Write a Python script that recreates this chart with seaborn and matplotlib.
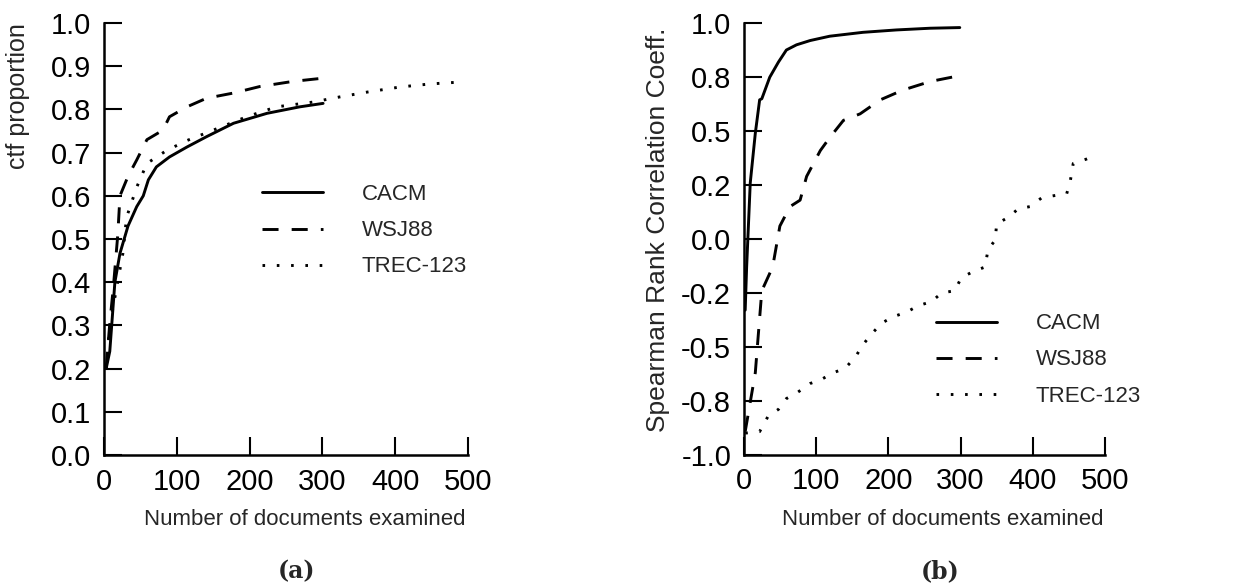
import matplotlib
matplotlib.use("Agg")
import matplotlib.pyplot as plt
from matplotlib.ticker import FormatStrFormatter
import seaborn as sns
import pandas as pd

# (a) ctf proportion vs documents examined
cacm_x_a = [3, 8, 15, 22, 33, 45, 54, 61, 72, 90, 114, 141, 178, 224, 269, 301]
cacm_y_a = [0.20, 0.24, 0.40, 0.467, 0.53, 0.575, 0.60, 0.637, 0.667, 0.69, 0.713, 0.737, 0.768, 0.791, 0.806, 0.814]
wsj_x_a = [3, 8, 13, 19, 22, 33, 45, 59, 81, 90, 114, 141, 178, 214, 260, 299]
wsj_y_a = [0.20, 0.305, 0.39, 0.51, 0.60, 0.645, 0.683, 0.73, 0.752, 0.783, 0.806, 0.826, 0.838, 0.853, 0.865, 0.872]
trec_x_a = [3, 8, 26, 31, 45, 59, 86, 114, 150, 196, 237, 287, 324, 361, 407, 448, 486]
trec_y_a = [0.20, 0.30, 0.467, 0.55, 0.62, 0.675, 0.705, 0.728, 0.752, 0.783, 0.806, 0.817, 0.829, 0.84, 0.852, 0.859, 0.863]

# (b) Spearman rank correlation vs documents examined
cacm_x_b = [2, 4, 9, 16, 22, 25, 36, 48, 59, 73, 92, 119, 165, 211, 258, 299]
cacm_y_b = [-0.33, -0.13, 0.26, 0.49, 0.645, 0.65, 0.75, 0.82, 0.876, 0.90, 0.92, 0.94, 0.958, 0.969, 0.977, 0.98]
wsj_x_b = [2, 16, 20, 25, 40, 50, 64, 78, 87, 106, 119, 138, 161, 189, 220, 258, 297]
wsj_y_b = [-0.893, -0.62, -0.45, -0.24, -0.13, 0.06, 0.15, 0.18, 0.29, 0.41, 0.47, 0.55, 0.58, 0.645, 0.69, 0.73, 0.756]
trec_x_b = [2, 22, 34, 48, 59, 75, 92, 108, 124, 140, 154, 165, 177, 191, 207, 225, 241, 260, 274,
            292, 301, 318, 334, 338, 348, 350, 366, 380, 396, 412, 428, 447, 452, 456, 474, 488]
trec_y_b = [-0.90, -0.893, -0.82, -0.79, -0.74, -0.71, -0.67, -0.65, -0.62, -0.60, -0.55, -0.49, -0.44,
            -0.39, -0.36, -0.34, -0.31, -0.29, -0.25, -0.24, -0.18, -0.15, -0.13, -0.05, -0.005, 0.07,
            0.10, 0.14, 0.15, 0.19, 0.20, 0.21, 0.27, 0.35, 0.37, 0.39]

collections = ["CACM", "WSJ88", "TREC-123"]
dash_styles = {"CACM": "", "WSJ88": (5.5, 4.5), "TREC-123": (0.9, 4.0)}


def frame(xs, ys):
    rows = []
    for name, x, y in zip(collections, xs, ys):
        rows.append(pd.DataFrame({"docs": x, "value": y, "collection": name}))
    return pd.concat(rows, ignore_index=True)


df_a = frame([cacm_x_a, wsj_x_a, trec_x_a], [cacm_y_a, wsj_y_a, trec_y_a])
df_b = frame([cacm_x_b, wsj_x_b, trec_x_b], [cacm_y_b, wsj_y_b, trec_y_b])

sns.set_style("ticks")
plt.rcParams["font.family"] = ["Liberation Sans", "DejaVu Sans"]
narrow = ["Liberation Sans Narrow", "Liberation Sans", "DejaVu Sans"]

fig = plt.figure(figsize=(12.54, 5.86), dpi=100)
ax_a = fig.add_axes([0.0829, 0.2235, 0.2903, 0.7372])
ax_b = fig.add_axes([0.5931, 0.2241, 0.2881, 0.7362])

for ax, df in [(ax_a, df_a), (ax_b, df_b)]:
    sns.lineplot(data=df, x="docs", y="value", hue="collection", style="collection",
                 palette=["black"] * 3, dashes=dash_styles, linewidth=2.1,
                 sort=False, estimator=None, legend=False, ax=ax)
    ax.set_xlim(0, 500)
    ax.set_xticks([0, 100, 200, 300, 400, 500])
    sns.despine(ax=ax)
    for s in ["left", "bottom"]:
        ax.spines[s].set_linewidth(1.8)
        ax.spines[s].set_color("black")
    ax.tick_params(direction="in", length=13, width=1.5, labelsize=21, pad=9, colors="black")
    ax.set_xlabel("Number of documents examined", fontsize=16)
    ax.xaxis.set_label_coords(0.552, -0.125)

ax_a.set_ylim(0, 1.0)
ax_a.set_yticks([i / 10 for i in range(11)])
ax_a.yaxis.set_major_formatter(FormatStrFormatter("%.1f"))
ax_a.set_ylabel("ctf proportion", fontsize=18)
ax_a.yaxis.set_label_coords(-0.202, 0.83)

ax_b.set_ylim(-1.0, 1.0)
ax_b.set_yticks([-1, -0.75, -0.5, -0.25, 0, 0.25, 0.5, 0.75, 1.0])
ax_b.yaxis.set_major_formatter(FormatStrFormatter("%.1f"))
ax_b.set_ylabel("Spearman Rank Correlation Coeff.", fontsize=19)
ax_b.yaxis.set_label_coords(-0.205, 0.522)

for ax in [ax_a, ax_b]:
    for lab in ax.get_xticklabels() + ax.get_yticklabels():
        lab.set_fontfamily(narrow)

for ax, anchor in [(ax_a, (0.434, 0.519)), (ax_b, (0.532, 0.2195))]:
    ax.legend(ax.get_lines()[:3], collections, loc="center left", bbox_to_anchor=anchor,
              frameon=False, fontsize=16, handlelength=2.75, handletextpad=1.75,
              labelspacing=0.68, borderpad=0, borderaxespad=0)

fig.text(297 / 1254, 1 - 571 / 586, "(a)", ha="center", va="center",
         fontsize=17, fontweight="bold", family="DejaVu Serif")
fig.text(940 / 1254, 1 - 571 / 586, "(b)", ha="center", va="center",
         fontsize=17, fontweight="bold", family="DejaVu Serif")

fig.savefig("out.png", dpi=100)
